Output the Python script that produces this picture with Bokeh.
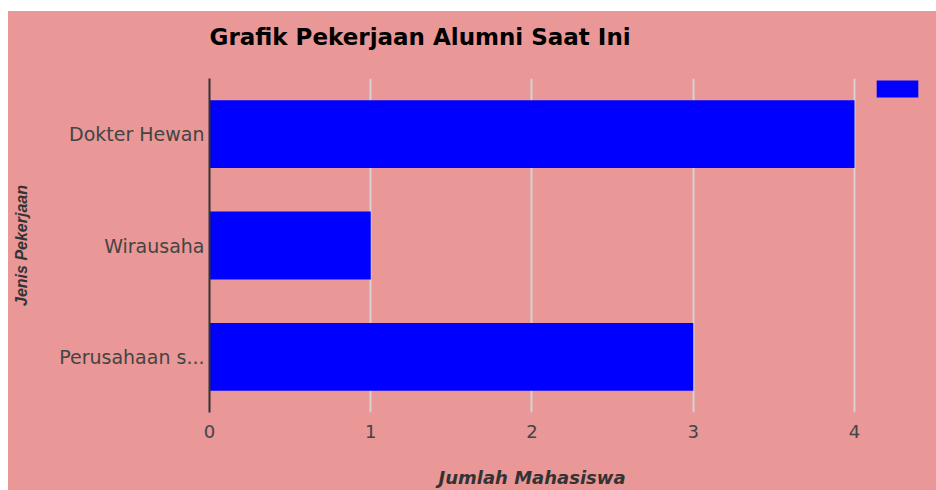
from bokeh.plotting import figure
from bokeh.models import FactorRange, Range1d, Legend, LegendItem, ColumnDataSource, FixedTicker, Title
from bokeh.embed import file_html
from bokeh.resources import INLINE

# Data
categories = ["Perusahaan s...", "Wirausaha", "Dokter Hewan"]
counts = [3, 1, 4]
x_ticks = [0, 1, 2, 3, 4]
title_text = "Grafik Pekerjaan Alumni Saat Ini"
x_title = "Jumlah Mahasiswa"
y_title = "Jenis Pekerjaan"

BG = "#E99797"

source = ColumnDataSource(data=dict(cat=categories, val=counts))

p = figure(
    width=928, height=480,
    y_range=FactorRange(*categories),
    x_range=Range1d(0, 4.428),
    output_backend="svg", toolbar_location=None,
    min_border_left=201, min_border_right=13, min_border_top=67, min_border_bottom=79,
    margin=(11, 0, 0, 8),
)

bars = p.hbar(y="cat", right="val", left=0, height=0.61, source=source,
              fill_color="#0000FF", line_color=None)

p.background_fill_color = None
p.border_fill_color = None
p.styles = {"background-color": BG}
p.outline_line_color = None

# spacer between frame and title (keeps title high without moving the frame)
p.add_layout(Title(text=" ", text_font_size="1px", standoff=21), "above")
p.add_layout(Title(text=title_text, text_font="DejaVu Sans", text_font_size="23px",
                   text_font_style="bold", text_color="#000000", align="left",
                   standoff=10), "above")

# x axis
p.xaxis.ticker = FixedTicker(ticks=x_ticks)
p.xaxis.axis_line_color = None
p.xaxis.major_tick_line_color = None
p.xaxis.minor_tick_line_color = None
p.xaxis.major_label_text_font = "DejaVu Sans"
p.xaxis.major_label_text_font_size = "18px"
p.xaxis.major_label_text_color = "#444444"
p.xaxis.major_label_standoff = 6

# x-axis title, centred under the 0-4 value span
p.add_layout(Title(text=" ", text_font_size="1px", standoff=23), "below")
p.add_layout(Title(text=x_title, text_font="DejaVu Sans", text_font_size="18px",
                   text_font_style="bold italic", text_color="#333333",
                   align="left", offset=229, vertical_align="top", standoff=0), "below")

# y axis
p.yaxis.axis_line_color = "#333333"
p.yaxis.axis_line_width = 2
p.yaxis.major_tick_line_color = None
p.yaxis.minor_tick_line_color = None
p.yaxis.major_tick_out = 0
p.yaxis.major_tick_in = 0
p.yaxis.major_label_text_font = "DejaVu Sans"
p.yaxis.major_label_text_font_size = "19px"
p.yaxis.major_label_text_color = "#444444"
p.yaxis.major_label_standoff = 5
p.yaxis.axis_label = y_title
p.yaxis.axis_label_text_font = "Liberation Sans"
p.yaxis.axis_label_text_font_size = "16px"
p.yaxis.axis_label_text_font_style = "bold italic"
p.yaxis.axis_label_text_color = "#333333"
p.yaxis.axis_label_standoff = 26

p.xgrid.grid_line_color = "#D3D3D3"
p.xgrid.grid_line_width = 2
p.ygrid.grid_line_color = None

legend = Legend(items=[LegendItem(label=" ", renderers=[bars])],
                location="top_right", glyph_width=52, glyph_height=21,
                label_width=0, label_standoff=0, padding=0, margin=0, spacing=0,
                border_line_color=None, background_fill_alpha=0,
                label_text_font_size="1px")
p.add_layout(legend)

open("out.html", "w").write(file_html(p, INLINE))
